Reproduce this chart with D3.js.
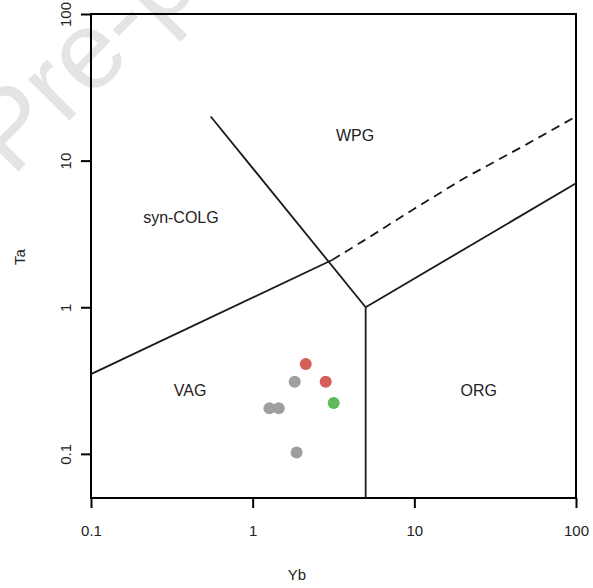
<!DOCTYPE html>
<html><head><meta charset="utf-8">
<script src="https://cdn.jsdelivr.net/npm/d3@7/dist/d3.min.js"></script>
<style>body{margin:0;background:#fff}svg{display:block}text{font-family:"Liberation Sans",Arial,sans-serif}</style>
</head><body>
<script>
// Data
const xTicks = [0.1, 1, 10, 100];
const yTicks = [0.1, 1, 10, 100];
const xTickLabels = ["0.1", "1", "10", "100"];
const yTickLabels = ["0.1", "1", "10", "100"];
// boundary lines (Yb, Ta)
const lineVAGsyn = [[0.1, 0.35], [3.1, 2.1]];
const lineDashed = [[3.1, 2.1], [5, 2.9], [10, 4.7], [20, 7.5], [50, 13], [100, 20]];
const lineDiag = [[0.55, 20], [5, 1]];
const lineVert = [[5, 1], [5, 0.05]];
const lineORG = [[5, 1], [100, 7]];
const labels = [
  {t: "WPG", x: 4.3, y: 14.5},
  {t: "syn-COLG", x: 0.36, y: 4.0},
  {t: "VAG", x: 0.41, y: 0.265},
  {t: "ORG", x: 25, y: 0.265}
];
const sampleYb = [2.13, 2.83, 3.17, 1.82, 1.27, 1.45, 1.87];
const sampleTa = [0.41, 0.31, 0.222, 0.31, 0.205, 0.205, 0.102];
const sampleGroup = ["red", "red", "green", "gray", "gray", "gray", "gray"];
const groupColor = {red: "#d45f58", green: "#5cba5c", gray: "#9e9e9e"};
const watermark = "Pre-proof";

const W = 593, H = 588;
const m = {l: 91, r: 17, t: 14, b: 90};
const svg = d3.select("body").append("svg").attr("width", W).attr("height", H);

// watermark
svg.append("text").attr("transform", "translate(12,178) rotate(-45)")
  .attr("font-size", 110).attr("fill", "#e4e4e4").text(watermark);

const x = d3.scaleLog().domain([0.1, 100]).range([m.l, W - m.r]);
const y = d3.scaleLog().domain([0.05, 100]).range([H - m.b, m.t]);

// box
svg.append("rect").attr("x", m.l).attr("y", m.t).attr("width", W - m.r - m.l).attr("height", H - m.b - m.t)
  .attr("fill", "none").attr("stroke", "#000").attr("stroke-width", 2);

const ax = svg.append("g").attr("transform", `translate(0,${H - m.b})`)
  .call(d3.axisBottom(x).tickValues(xTicks).tickFormat((d, i) => xTickLabels[i]).tickSize(10).tickPadding(17).tickSizeOuter(0));
const ay = svg.append("g").attr("transform", `translate(${m.l},0)`)
  .call(d3.axisLeft(y).tickValues(yTicks).tickFormat((d, i) => yTickLabels[i]).tickSize(10).tickSizeOuter(0));
[ax, ay].forEach(a => {
  a.select(".domain").remove();
  a.selectAll("line").attr("stroke-width", 2);
  a.selectAll("text").attr("font-size", 15).attr("fill", "#222");
});
ay.selectAll(".tick text").attr("text-anchor", "middle").attr("x", 0).attr("dy", 0)
  .attr("transform", "translate(-24,0) rotate(-90)").attr("dominant-baseline", "middle");

const line = d3.line().x(d => x(d[0])).y(d => y(d[1]));
const g = svg.append("g").attr("fill", "none").attr("stroke", "#1a1a1a").attr("stroke-width", 1.8);
[lineVAGsyn, lineDiag, lineVert, lineORG].forEach(l => g.append("path").attr("d", line(l)));
g.append("path").attr("d", line(lineDashed)).attr("stroke-dasharray", "9,6");

svg.selectAll(".lab").data(labels).join("text").attr("class", "lab")
  .attr("x", d => x(d.x)).attr("y", d => y(d.y)).attr("text-anchor", "middle").attr("dominant-baseline", "middle")
  .attr("font-size", 16).attr("fill", "#222").text(d => d.t);

svg.selectAll(".pt").data(sampleYb).join("circle").attr("class", "pt")
  .attr("cx", d => x(d)).attr("cy", (d, i) => y(sampleTa[i])).attr("r", 6)
  .attr("fill", (d, i) => groupColor[sampleGroup[i]]);

svg.append("text").attr("x", 297).attr("y", 576).attr("text-anchor", "middle").attr("dominant-baseline", "middle")
  .attr("font-size", 15).attr("fill", "#222").text("Yb");
svg.append("text").attr("transform", "translate(21,257) rotate(-90)").attr("text-anchor", "middle").attr("dominant-baseline", "middle")
  .attr("font-size", 15).attr("fill", "#222").text("Ta");
</script>
</body></html>
